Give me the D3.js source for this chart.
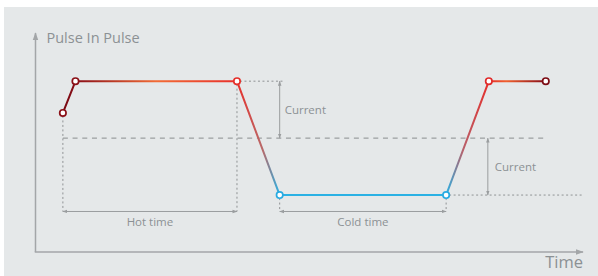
<!DOCTYPE html>
<html>
<head>
<meta charset="utf-8">
<script src="https://cdn.jsdelivr.net/npm/d3@7"></script>
<style>
	html, body { margin: 0; padding: 0; background: #fff; }
	svg { display: block; }
	text { font-family: "Open Sans", "Noto Sans", sans-serif; fill: #8c9194; }
</style>
</head>
<body>
<svg id="chart" width="598" height="276"></svg>
<script>
// pulse shape: time (0-100) and level (0-100)
var pulseTime = [5, 7.3, 36.8, 44.6, 75, 82.8, 93.2];
var pulseLevel = [63.5, 78, 78, 26, 26, 78, 78];
var midLevel = 52;
var timeMarkLevel = 18.5;
var hotTime = [5, 36.8];
var coldTime = [44.6, 75];
var yTitle = 'Pulse In Pulse';
var xTitle = 'Time';
var currentLabel = 'Current';
var hotLabel = 'Hot time';
var coldLabel = 'Cold time';

var svg = d3.select('#chart');
var width = 598, height = 276;

svg.append('rect').attr('x', 4).attr('y', 7)
	.attr('width', width - 4).attr('height', height - 7)
	.attr('fill', '#e5e8e9');

var x = d3.scaleLinear().domain([0, 100]).range([35.5, 583]);
var y = d3.scaleLinear().domain([0, 100]).range([252, 33]);

var defs = svg.append('defs');
// small arrow heads for axes and the annotation lines
function marker(id, size, color) {
	defs.append('marker')
		.attr('id', id)
		.attr('viewBox', '0 0 10 10')
		.attr('refX', 9).attr('refY', 5)
		.attr('markerWidth', size).attr('markerHeight', size)
		.attr('markerUnits', 'userSpaceOnUse')
		.attr('orient', 'auto-start-reverse')
		.append('path')
		.attr('d', 'M0,1.5 L10,5 L0,8.5 Z')
		.attr('fill', color);
}
marker('axArrow', 8, '#a3a6a8');
marker('anArrow', 5, '#9a9d9f');

// gradient along the pulse, keyed to the point positions
var grad = defs.append('linearGradient')
	.attr('id', 'pulseGrad')
	.attr('gradientUnits', 'userSpaceOnUse')
	.attr('x1', x(pulseTime[0])).attr('x2', x(pulseTime[6]))
	.attr('y1', 0).attr('y2', 0);
var x0 = x(pulseTime[0]), xw = x(pulseTime[6]) - x0;
function off(t) { return (x(t) - x0) / xw; }
var stops = [
	[off(pulseTime[0]), '#760912'],
	[off(pulseTime[1]), '#8a0f18'],
	[off((pulseTime[1] + pulseTime[2]) / 2), '#f26b35'],
	[off(pulseTime[2]), '#e8302b'],
	[off(pulseTime[2] + (pulseTime[3] - pulseTime[2]) * 0.6), '#b86a6a'],
	[off(pulseTime[3]), '#2bb1e4'],
	[off(pulseTime[4]), '#2bb1e4'],
	[off(pulseTime[4] + (pulseTime[5] - pulseTime[4]) * 0.4), '#b8606a'],
	[off(pulseTime[5]), '#e62e2a'],
	[off((pulseTime[5] + pulseTime[6]) / 2 - 2), '#f0602e'],
	[off(pulseTime[6]), '#860d17']
];
stops.forEach(function(s) {
	grad.append('stop').attr('offset', s[0]).attr('stop-color', s[1]);
});

// axes
svg.append('line')
	.attr('x1', x(0)).attr('y1', y(0)).attr('x2', x(0)).attr('y2', y(100))
	.attr('stroke', '#a3a6a8').attr('stroke-width', 1.5)
	.attr('marker-end', 'url(#axArrow)');
svg.append('line')
	.attr('x1', x(0) - 0.75).attr('y1', y(0)).attr('x2', x(100)).attr('y2', y(0))
	.attr('stroke', '#a3a6a8').attr('stroke-width', 1.5)
	.attr('marker-end', 'url(#axArrow)');

svg.append('text').attr('x', x(0) + 11).attr('y', 43)
	.attr('font-size', 14.5).text(yTitle);
svg.append('text').attr('x', x(100)).attr('y', 268)
	.attr('text-anchor', 'end').attr('font-size', 16.5).text(xTitle);

var g = svg.append('g');

function line(x1, y1, x2, y2, cls) {
	var l = g.append('line')
		.attr('x1', x1).attr('y1', y1).attr('x2', x2).attr('y2', y2)
		.attr('fill', 'none');
	if (cls == 'dot') l.attr('stroke', '#8f9294').attr('stroke-width', 1).attr('stroke-dasharray', '2,2.5');
	if (cls == 'dash') l.attr('stroke', '#8a8d8f').attr('stroke-width', 1).attr('stroke-dasharray', '5,4.7');
	if (cls == 'arrow') l.attr('stroke', '#9a9d9f').attr('stroke-width', 1)
		.attr('marker-start', 'url(#anArrow)').attr('marker-end', 'url(#anArrow)');
	return l;
}

// middle level dashed line
line(x(pulseTime[0]), y(midLevel), x(pulseTime[6]) + 2, y(midLevel), 'dash');

// dotted guides
line(x(pulseTime[0]), y(pulseLevel[0]) + 3, x(pulseTime[0]), y(timeMarkLevel), 'dot');
line(x(pulseTime[2]), y(pulseLevel[2]) + 3, x(pulseTime[2]), y(timeMarkLevel), 'dot');
line(x(pulseTime[3]), y(pulseLevel[3]) + 3, x(pulseTime[3]), y(timeMarkLevel), 'dot');
line(x(pulseTime[4]), y(pulseLevel[4]) + 3, x(pulseTime[4]), y(timeMarkLevel), 'dot');
line(x(pulseTime[2]) + 3, y(pulseLevel[2]), x(pulseTime[3]) + 3, y(pulseLevel[2]), 'dot');
line(x(pulseTime[4]) + 3, y(pulseLevel[4]), x(100) - 1, y(pulseLevel[4]), 'dot');

// current arrows
line(x(pulseTime[3]), y(pulseLevel[2]), x(pulseTime[3]), y(midLevel), 'arrow');
line(x(pulseTime[5]) - 1, y(midLevel), x(pulseTime[5]) - 1, y(pulseLevel[4]), 'arrow');
g.append('text').attr('x', x(pulseTime[3]) + 5).attr('y', (y(pulseLevel[2]) + y(midLevel)) / 2 + 4)
	.attr('font-size', 11.5).text(currentLabel);
g.append('text').attr('x', x(pulseTime[5]) + 6).attr('y', (y(midLevel) + y(pulseLevel[4])) / 2 + 4)
	.attr('font-size', 11.5).text(currentLabel);

// hot / cold time arrows
line(x(hotTime[0]), y(timeMarkLevel), x(hotTime[1]), y(timeMarkLevel), 'arrow');
line(x(coldTime[0]), y(timeMarkLevel), x(coldTime[1]), y(timeMarkLevel), 'arrow');
g.append('text').attr('x', (x(hotTime[0]) + x(hotTime[1])) / 2).attr('y', y(timeMarkLevel) + 15)
	.attr('text-anchor', 'middle').attr('font-size', 11.5).text(hotLabel);
g.append('text').attr('x', (x(coldTime[0]) + x(coldTime[1])) / 2).attr('y', y(timeMarkLevel) + 15)
	.attr('text-anchor', 'middle').attr('font-size', 11.5).text(coldLabel);

// the pulse itself
var pts = pulseTime.map(function(t, i) { return [x(t), y(pulseLevel[i])]; });
g.append('path')
	.attr('d', d3.line()(pts))
	.attr('fill', 'none')
	.attr('stroke', 'url(#pulseGrad)')
	.attr('stroke-width', 2)
	.attr('stroke-linejoin', 'round');

var ptColors = ['#8b1017', '#8b1017', '#e5302a', '#29abe2', '#29abe2', '#e02a2a', '#7d0d15'];
g.selectAll('circle.pt')
	.data(pts).enter()
	.append('circle')
	.attr('class', 'pt')
	.attr('cx', function(d) { return d[0]; })
	.attr('cy', function(d) { return d[1]; })
	.attr('r', 3.2)
	.attr('fill', '#fff')
	.attr('stroke', function(d, i) { return ptColors[i]; })
	.attr('stroke-width', 1.7);
</script>
</body>
</html>
